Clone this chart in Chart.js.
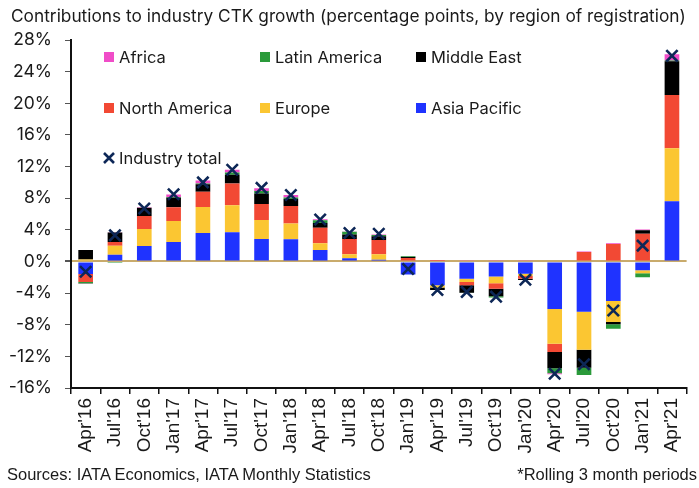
<!DOCTYPE html>
<html>
<head>
<meta charset="utf-8">
<script src="https://cdn.jsdelivr.net/npm/chart.js@4.4.1/dist/chart.umd.min.js"></script>
<style>
  html, body { margin: 0; padding: 0; background: #fff; }
  #wrap { position: relative; width: 699px; height: 488px; overflow: hidden; }
  #c { position: absolute; left: 0; top: 0; }
  #title { position: absolute; left: 11px; top: 5px; font-family: Inter, "Noto Sans", sans-serif; font-size: 17.3px; color: #1a1a1a; white-space: nowrap; }
  .foot { position: absolute; top: 465px; font-family: "Liberation Sans Narrow", "Liberation Sans", sans-serif; font-size: 16.5px; color: #1a1a1a; white-space: nowrap; }
  #src { left: 7px; }
  #note { right: 2px; }
  .lg { position: absolute; font-family: Inter, "Noto Sans", sans-serif; font-size: 16.5px; color: #1a1a1a; white-space: nowrap; line-height: 20px; }
  .sw { position: absolute; left: 0; top: 5px; width: 10px; height: 10px; }
  .lgt { position: absolute; left: 15px; top: 0; }
</style>
</head>
<body>
<div id="wrap">
  <canvas id="c" width="699" height="488"></canvas>
  <div id="title">Contributions to industry CTK growth (percentage points, by region of registration)</div>
  <div id="legend"></div>
  <div class="foot" id="src">Sources: IATA Economics, IATA Monthly Statistics</div>
  <div class="foot" id="note">*Rolling 3 month periods</div>
</div>
<script>
const categories = ["Apr'16","Jul'16","Oct'16","Jan'17","Apr'17","Jul'17","Oct'17","Jan'18","Apr'18","Jul'18","Oct'18","Jan'19","Apr'19","Jul'19","Oct'19","Jan'20","Apr'20","Jul'20","Oct'20","Jan'21","Apr'21"];

const asiaPacific  = [-1.6, 0.85, 1.95, 2.45, 3.6, 3.7, 2.85, 2.8, 1.45, 0.4, 0.2, -1.65, -3.0, -2.2, -1.9, -1.55, -6.0, -6.35, -5.0, -1.1, 7.6];
const europe       = [0.25, 1.15, 2.15, 2.65, 3.3, 3.4, 2.4, 2.0, 0.85, 0.5, 0.7, 0.0, -0.3, -0.4, -0.85, -0.3, -4.4, -4.8, -2.65, -0.4, 6.7];
const northAmerica = [-1.0, 0.45, 1.65, 1.75, 1.9, 2.75, 2.0, 2.2, 1.95, 1.95, 1.8, 0.45, 0.05, -0.4, -0.7, -0.35, -1.05, 1.2, 2.2, 3.5, 6.75];
const middleEast   = [1.2, 1.2, 1.0, 1.2, 0.95, 1.1, 1.35, 0.9, 0.6, 0.55, 0.5, 0.1, -0.3, -0.95, -0.95, -0.15, -2.05, -2.3, -0.3, 0.45, 4.25];
const latinAmerica = [-0.2, -0.2, 0.05, 0.1, 0.1, 0.3, 0.3, 0.2, 0.35, 0.35, 0.15, 0.1, 0.0, -0.05, -0.15, 0.0, -0.65, -0.9, -0.55, -0.5, 0.1];
const africa       = [-0.05, 0.05, 0.1, 0.3, 0.4, 0.35, 0.35, 0.3, 0.15, 0.05, 0.05, 0.05, 0.05, 0.15, 0.15, 0.15, -0.1, 0.05, 0.1, 0.1, 0.8];
const industryTotal = [-1.3, 3.3, 6.7, 8.5, 10.0, 11.6, 9.3, 8.4, 5.3, 3.6, 3.5, -0.95, -3.6, -3.85, -4.45, -2.3, -14.2, -13.0, -6.2, 2.0, 26.0];

const yTicks = [28, 24, 20, 16, 12, 8, 4, 0, -4, -8, -12, -16];

const seriesNames = ["Asia Pacific", "Europe", "North America", "Middle East", "Latin America", "Africa"];
const seriesColors = ["#1f33ff", "#fbc632", "#f24934", "#000000", "#2a9a3a", "#f04dc8"];
const seriesValues = [asiaPacific, europe, northAmerica, middleEast, latinAmerica, africa];
const totalName = "Industry total";
const totalColor = "#0d2757";

const datasets = seriesNames.map((n, i) => ({
  type: 'bar',
  label: n,
  data: seriesValues[i],
  backgroundColor: seriesColors[i],
  stack: 'regions',
  order: 2,
  barPercentage: 0.5,
  categoryPercentage: 1.0
}));
datasets.push({
  type: 'line',
  label: totalName,
  data: industryTotal,
  showLine: false,
  stack: 'total',
  order: 0,
  pointStyle: 'crossRot',
  pointRadius: 8,
  pointHoverRadius: 8,
  pointBorderWidth: 2.6,
  pointBorderColor: totalColor,
  pointBackgroundColor: totalColor
});

new Chart(document.getElementById('c'), {
  data: { labels: categories, datasets },
  options: {
    responsive: false,
    devicePixelRatio: 1,
    animation: false,
    layout: { padding: { top: 40, right: 0, bottom: 0, left: 0 } },
    plugins: { legend: { display: false }, tooltip: { enabled: false }, title: { display: false } },
    scales: {
      x: {
        stacked: true,
        offset: true,
        border: { display: true, color: '#111', width: 2 },
        grid: { display: true, offset: true, drawOnChartArea: false, drawTicks: true, tickLength: 6, color: '#111', lineWidth: 1.5 },
        ticks: {
          maxRotation: 90, minRotation: 90, autoSkip: false, padding: 4,
          color: '#1a1a1a', font: { family: "'Liberation Sans', Arial, sans-serif", size: 19 }
        },
        afterFit: (s) => { s.height = 100; }
      },
      y: {
        stacked: true,
        min: -16, max: 28,
        z: 1,
        border: { display: true, color: '#111', width: 2 },
        grid: {
          drawOnChartArea: true, drawTicks: true, tickLength: 6,
          color: (ctx) => ctx.tick && ctx.tick.value === 0 ? '#c9ab6c' : 'rgba(0,0,0,0)',
          lineWidth: (ctx) => ctx.tick && ctx.tick.value === 0 ? 2 : 1,
          tickColor: '#555'
        },
        afterBuildTicks: (s) => { s.ticks = yTicks.map(v => ({ value: v })); },
        ticks: {
          padding: 13,
          color: '#1a1a1a',
          font: { family: "Inter, 'Noto Sans', sans-serif", size: 17.5 },
          callback: (v) => v + '%'
        },
        afterFit: (s) => { s.width = 71; }
      }
    }
  }
});

// HTML legend built from the dataset definitions
const legendOrder = ["Africa", "Latin America", "Middle East", "North America", "Europe", "Asia Pacific", totalName];
const lg = document.getElementById('legend');
legendOrder.forEach((name, k) => {
  const col = k % 3, row = Math.floor(k / 3);
  const d = document.createElement('div');
  d.className = 'lg';
  d.style.left = (104 + col * 156) + 'px';
  d.style.top = (47 + row * 50.5) + 'px';
  const idx = seriesNames.indexOf(name);
  if (idx >= 0) {
    const sw = document.createElement('div');
    sw.className = 'sw';
    sw.style.background = seriesColors[idx];
    d.appendChild(sw);
  } else {
    const sw = document.createElement('canvas');
    sw.width = 12; sw.height = 12;
    sw.style.position = 'absolute'; sw.style.left = '-1px'; sw.style.top = '4px';
    const c = sw.getContext('2d');
    c.strokeStyle = totalColor; c.lineWidth = 2.6;
    c.beginPath(); c.moveTo(1,1); c.lineTo(11,11); c.moveTo(11,1); c.lineTo(1,11); c.stroke();
    d.appendChild(sw);
  }
  const t = document.createElement('span');
  t.className = 'lgt';
  t.textContent = name;
  d.appendChild(t);
  lg.appendChild(d);
});
</script>
</body>
</html>
